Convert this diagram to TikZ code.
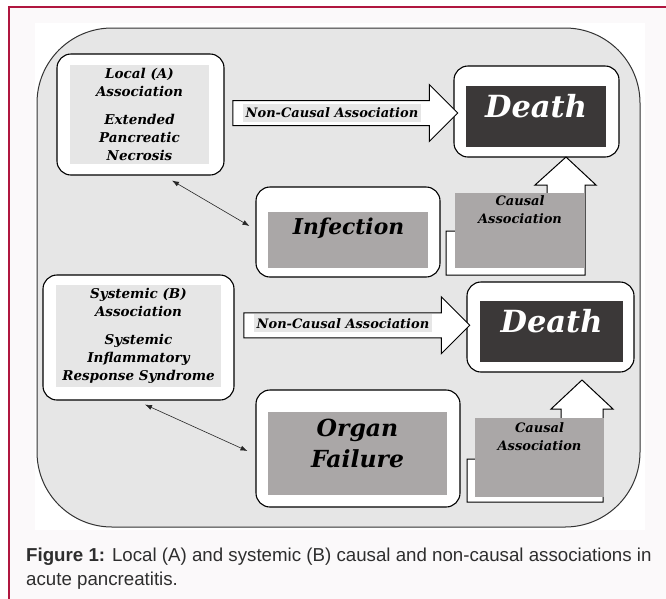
\documentclass[tikz,border=0pt]{standalone}
\usepackage{fontspec}
\setmainfont{Liberation Sans}
\newfontfamily\diafont{DejaVu Serif}
\usetikzlibrary{shapes.arrows}
\usetikzlibrary{arrows.meta}
\usetikzlibrary{calc}

\definecolor{framered}{HTML}{B0163F}
\definecolor{pagebg}{HTML}{FBF9FA}
\definecolor{panelgray}{HTML}{E6E6E6}
\definecolor{midgray}{HTML}{AAA7A7}
\definecolor{deathgray}{HTML}{3B3838}
\definecolor{captext}{HTML}{2E2E2E}

\tikzset{
  whitebox/.style={draw=black, line width=1.1pt, fill=white, rounded corners=14pt, inner sep=0pt},
  lightbox/.style={fill=panelgray, inner sep=0pt, align=center, font=\diafont\bfseries\itshape\fontsize{13.5}{18}\selectfont},
  midbox/.style={fill=midgray, inner sep=0pt},
  darkbox/.style={fill=deathgray, inner sep=0pt},
  bigword/.style={align=center, inner sep=0pt, font=\diafont\bfseries\itshape\fontsize{#1}{31}\selectfont},
  smallword/.style={align=center, inner sep=0pt, font=\diafont\bfseries\itshape\fontsize{13}{17.5}\selectfont},
  bigarrow/.style={single arrow, draw=black, line width=1pt, fill=white, inner sep=0pt, inner ysep=12pt, single arrow head extend=16pt},
  arrowlabel/.style={fill=panelgray, inner xsep=3pt, inner ysep=0pt, minimum height=18pt, font=\diafont\bfseries\itshape\fontsize{13}{15}\selectfont},
  bentarrow/.style={draw=black, line width=1pt, fill=white},
  link/.style={{Latex[length=7pt,width=5pt]}-{Latex[length=7pt,width=5pt]}, line width=0.6pt, black!85}
}

\begin{document}
\begin{tikzpicture}[x=1pt,y=-1pt]
\useasboundingbox (0,0) rectangle (666,598);
% frame and panel
\fill[pagebg] (9,7) rectangle (667,599);
\draw[framered, line width=1.5pt] (9,599) -- (9,7) -- (667,7);
\fill[white] (35,23) rectangle (645,530);
\draw[fill=panelgray, draw=black!80, line width=1pt, rounded corners=75pt] (37,28) rectangle (640,527);

% local (A)
\node[whitebox, minimum width=167pt, minimum height=121pt] (local) at (140.5,114.5) {};
\node[lightbox, minimum width=139pt, minimum height=99pt] (localtxt) at (139.5,114.5) {Local (A)\\Association\\[10pt]Extended\\Pancreatic\\Necrosis};
\node[whitebox, minimum width=165pt, minimum height=91pt] (death1) at (536.5,111.5) {};
\node[darkbox, minimum width=140pt, minimum height=61pt] (death1box) at (536,116.5) {};
\node[bigword=30.5, text=white] (death1txt) at (536,106) {Death};
\node[whitebox, minimum width=184pt, minimum height=90pt] (infection) at (348,232) {};
\node[midbox, minimum width=160pt, minimum height=56pt] (infectionbox) at (348,240) {};
\node[bigword=21.8] (infectiontxt) at (348.5,228) {Infection};

\node[bigarrow, minimum height=225pt] (nocause1) at ($(local.east)!0.5!(death1.west)$) {};
\node[arrowlabel] at ([xshift=-7pt]nocause1.center) {Non-Causal Association};

\draw[bentarrow] (446,275) -- (446,231) -- (547,231) -- (547,185) -- (535,185) -- (566,157) -- (596,185) -- (585,185) -- (585,275) -- cycle;
\node[midbox, minimum width=130pt, minimum height=75pt] (causal1) at (520,230.5) {};
\node[smallword] at (520,209.5) {Causal\\Association};

\draw[link] ([xshift=31.5pt,yshift=-5pt]local.south) -- ([xshift=-6pt,yshift=6pt]infection.west);

% systemic (B)
\node[whitebox, minimum width=191pt, minimum height=125pt] (systemic) at (138.5,337.5) {};
\node[lightbox, minimum width=165pt, minimum height=102pt] (systemictxt) at (138.5,336) {Systemic (B)\\Association\\[10pt]Systemic\\Inflammatory\\Response Syndrome};
\node[whitebox, minimum width=167pt, minimum height=90pt] (death2) at (550.5,327) {};
\node[darkbox, minimum width=143pt, minimum height=61pt] (death2box) at (551.5,331.5) {};
\node[bigword=30.5, text=white] (death2txt) at (551.5,321) {Death};
\node[whitebox, minimum width=204pt, minimum height=117pt] (organ) at (358,448.5) {};
\node[midbox, minimum width=179pt, minimum height=83pt] (organbox) at (357.5,453.5) {};
\node[bigword=23.5] (organtxt) at (357.5,443) {Organ\\Failure};

\node[bigarrow, minimum height=226pt] (nocause2) at ($(systemic.east)!0.5!(death2.west)+(0,-7)$) {};
\node[arrowlabel] at ([xshift=-7.5pt,yshift=2pt]nocause2.center) {Non-Causal Association};

\draw[bentarrow] (467,502) -- (467,459) -- (561,459) -- (561,409) -- (551,409) -- (582,380) -- (613,409) -- (603,409) -- (603,502) -- cycle;
\node[midbox, minimum width=129pt, minimum height=79pt] (causal2) at (539.5,457.5) {};
\node[smallword] at (539.5,436.5) {Causal\\Association};

\draw[link] ([xshift=6.5pt,yshift=-4pt]systemic.south) -- ([xshift=-8pt,yshift=-2.5pt]organ.west);

% caption
\node[anchor=north west, inner sep=0pt, align=left, text=captext, font=\fontsize{18.7}{23.5}\selectfont] (caption) at (26,548) {\textbf{Figure 1:} Local (A) and systemic (B) causal and non-causal associations in\\acute pancreatitis.};
\end{tikzpicture}
\end{document}
